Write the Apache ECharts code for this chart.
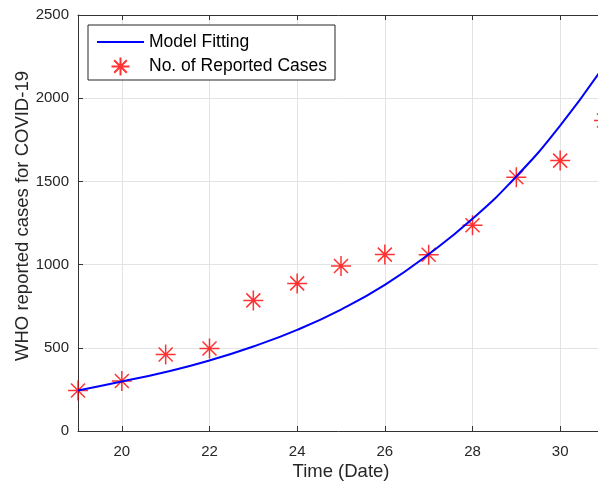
<!DOCTYPE html>
<html>
<head>
<meta charset="utf-8">
<script src="https://cdn.jsdelivr.net/npm/echarts@6/dist/echarts.min.js"></script>
<style>
    html, body {margin: 0; padding: 0; background: #fff;}
    #chart {width: 598px; height: 485px;}
</style>
</head>
<body>
<div id="chart"></div>
<script>
// reported cases (stars)
var caseDays = [19, 20, 21, 22, 23, 24, 25, 26, 27, 28, 29, 30, 31];
var caseValues = [243, 300, 460, 496, 785, 887, 992, 1060, 1059, 1237, 1525, 1625, 1866];
// model fitting curve
var fitDays = [19, 20, 21, 22, 23, 24, 25, 26, 27, 28, 29, 30, 31];
var fitValues = [243, 297, 355, 424, 508, 608, 730, 878, 1062, 1275, 1530, 1835, 2195];
var xTicks = [20, 22, 24, 26, 28, 30];

var toPairs = function (xs, ys) {
    var out = [];
    for (var i = 0; i < xs.length; i++) {
        out.push([xs[i], ys[i]]);
    }
    return out;
};

// matlab style asterisk
var starPath = 'path://M0,-10L0,10M-10,0L10,0M-7,-7L7,7M-7,7L7,-7';
var axisColor = '#333333';
var font = 'Liberation Sans, Arial, sans-serif';

var myChart = echarts.init(document.getElementById('chart'));
myChart.setOption({
    animation: false,
    backgroundColor: '#fff',
    grid: {left: 78, right: -6, top: 15, bottom: 54, outerBoundsMode: 'none', containLabel: false},
    legend: {
        orient: 'vertical',
        left: 88, top: 25,
        padding: [8, 8, 2, 8],
        itemWidth: 47, itemHeight: 18, itemGap: 4,
        borderColor: '#262626', borderWidth: 1,
        backgroundColor: '#fff',
        textStyle: {fontFamily: font, fontSize: 17.5, color: '#000'},
        data: [
            {name: 'Model Fitting', itemStyle: {opacity: 0}},
            'No. of Reported Cases'
        ]
    },
    xAxis: [{
        type: 'value',
        min: 19, max: 31,
        name: 'Time (Date)',
        nameLocation: 'middle',
        nameGap: 31,
        nameMoveOverlap: false,
        nameTextStyle: {fontFamily: font, fontSize: 18.5, color: '#262626'},
        axisLine: {lineStyle: {color: axisColor, width: 1}},
        axisTick: {inside: true, length: 5, customValues: xTicks, lineStyle: {color: axisColor}},
        axisLabel: {customValues: xTicks, fontFamily: font, fontSize: 15, color: '#262626', margin: 13},
        splitLine: {show: true, lineStyle: {color: '#e3e3e3'}}
    }, {
        // top box line
        type: 'value',
        position: 'top',
        min: 19, max: 31,
        axisLine: {show: true, lineStyle: {color: axisColor, width: 1}},
        axisTick: {inside: true, length: 5, customValues: xTicks, lineStyle: {color: axisColor}},
        axisLabel: {show: false},
        splitLine: {show: false}
    }],
    yAxis: {
        type: 'value',
        min: 0, max: 2500, interval: 500,
        name: 'WHO reported cases for COVID-19',
        nameLocation: 'middle',
        nameGap: 46,
        nameMoveOverlap: false,
        nameTextStyle: {fontFamily: font, fontSize: 18.5, color: '#262626', padding: [0, 0, 0, 14]},
        axisLine: {show: true, lineStyle: {color: axisColor, width: 1}},
        axisTick: {show: true, inside: true, length: 5, lineStyle: {color: axisColor}},
        axisLabel: {
            fontFamily: font, fontSize: 15, color: '#262626', margin: 9,
            formatter: function (v) {
                return String(v);
            }
        },
        splitLine: {show: true, lineStyle: {color: '#e3e3e3'}}
    },
    series: [{
        name: 'Model Fitting',
        type: 'line',
        data: toPairs(fitDays, fitValues),
        smooth: true,
        symbol: 'none',
        lineStyle: {color: '#0000ff', width: 2},
        itemStyle: {color: '#0000ff'}
    }, {
        name: 'No. of Reported Cases',
        type: 'scatter',
        data: toPairs(caseDays, caseValues),
        symbol: starPath,
        symbolSize: 20,
        clip: false,
        itemStyle: {color: 'none', borderColor: '#ff0000', borderWidth: 1.5}
    }]
});
</script>
</body>
</html>
